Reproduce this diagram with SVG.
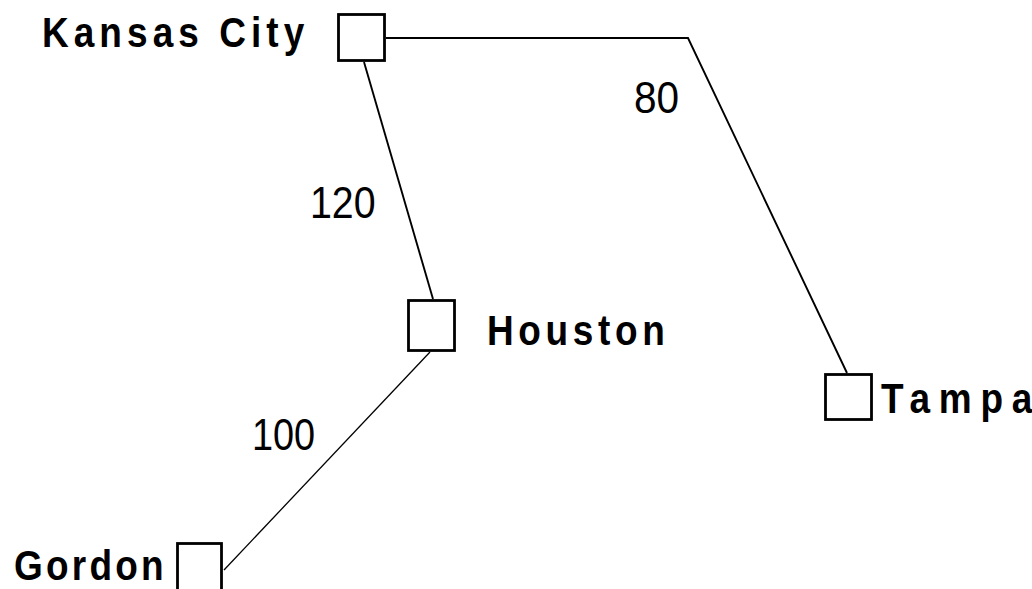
<svg xmlns="http://www.w3.org/2000/svg" width="1032" height="589" viewBox="0 0 1032 589">
<style>
.box{fill:#fff;stroke:#000;stroke-width:2.8}
.lbl{font-family:"Liberation Sans",Arial,sans-serif;font-weight:bold;font-size:42px;fill:#000}
.num{font-family:"Liberation Sans",Arial,sans-serif;font-size:45px;fill:#000}
.edge{fill:none;stroke:#000;stroke-width:1.9}
</style>
<rect width="1032" height="589" fill="#fff"/>
<g id="connectors">
<path class="edge" d="M386 38 H688 L847 373"/>
<path class="edge" d="M364 62 L433 299"/>
<path class="edge" style="stroke-width:1.3" d="M430 352 L224 570"/>
</g>
<g id="edge-labels">
<g transform="translate(310,218) scale(0.82,1)"><text class="num" x="0" y="0" textLength="80" lengthAdjust="spacingAndGlyphs">120</text></g>
<g transform="translate(634,113) scale(0.82,1)"><text class="num" x="0" y="0" textLength="55" lengthAdjust="spacingAndGlyphs">80</text></g>
<g transform="translate(252,450) scale(0.82,1)"><text class="num" x="0" y="0" textLength="77" lengthAdjust="spacingAndGlyphs">100</text></g>
</g>
<g id="node-kansas-city">
<rect class="box" x="338.5" y="14.5" width="46" height="46"/>
<g transform="translate(42,47) scale(0.88,1)"><text class="lbl" x="0" y="0" textLength="298" lengthAdjust="spacing">Kansas City</text></g>
</g>
<g id="node-houston">
<rect class="box" x="408.5" y="300.5" width="46" height="50"/>
<g transform="translate(487,345) scale(0.88,1)"><text class="lbl" x="0" y="0" textLength="202" lengthAdjust="spacing">Houston</text></g>
</g>
<g id="node-tampa">
<rect class="box" x="825.5" y="374.5" width="46" height="45"/>
<g transform="translate(881,413) scale(0.88,1)"><text class="lbl" x="0" y="0" textLength="172" lengthAdjust="spacing">Tampa</text></g>
</g>
<g id="node-gordon">
<rect class="box" x="177.5" y="543.5" width="44" height="50"/>
<g transform="translate(14,580) scale(0.88,1)"><text class="lbl" x="0" y="0" textLength="170" lengthAdjust="spacing">Gordon</text></g>
</g>
</svg>
